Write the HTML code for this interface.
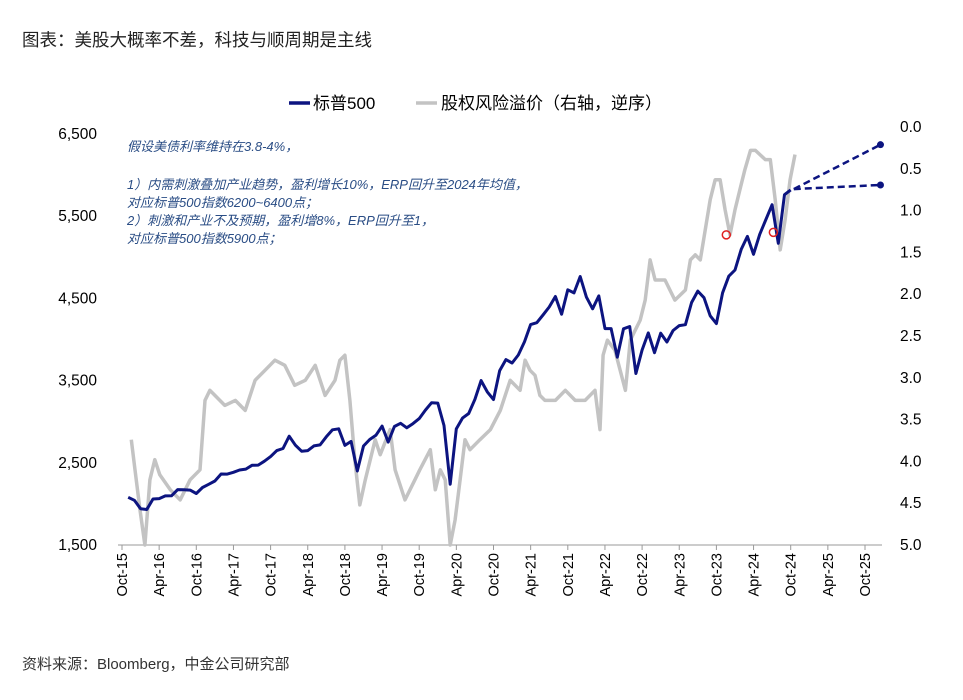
<!DOCTYPE html>
<html><head><meta charset="utf-8"><style>
body{margin:0;background:#fff;width:963px;height:695px;overflow:hidden;font-family:"Liberation Sans","Noto Sans CJK SC",sans-serif;}
</style></head><body>
<svg width="963" height="695" xmlns="http://www.w3.org/2000/svg">
<text x="22" y="46" font-size="17.5" fill="#222" font-family="Liberation Sans, Noto Sans CJK SC, sans-serif">图表：美股大概率不差，科技与顺周期是主线</text>
<g id="legend" font-size="17" font-family="Liberation Sans, Noto Sans CJK SC, sans-serif" fill="#000">
<line x1="289" y1="103" x2="310" y2="103" stroke="#0c1480" stroke-width="3.5"/>
<text x="313" y="109">标普500</text>
<line x1="416" y1="103" x2="437" y2="103" stroke="#c3c3c3" stroke-width="3.5"/>
<text x="441" y="109">股权风险溢价（右轴，逆序）</text>
</g>
<g id="axes" font-size="15" fill="#000"></g>
<g id="plot"></g>
<g font-size="13" font-style="italic" fill="#2a4d85" font-family="Liberation Sans, Noto Sans CJK SC, sans-serif">
<text x="127" y="151">假设美债利率维持在3.8-4%，</text>
<text x="127" y="189">1）内需刺激叠加产业趋势，盈利增长10%，ERP回升至2024年均值，</text>
<text x="127" y="207">对应标普500指数6200~6400点；</text>
<text x="127" y="225">2）刺激和产业不及预期，盈利增8%，ERP回升至1，</text>
<text x="127" y="243">对应标普500指数5900点；</text>
</g>
<text x="22" y="669" font-size="15" fill="#333" font-family="Liberation Sans, Noto Sans CJK SC, sans-serif">资料来源：Bloomberg，中金公司研究部</text>
</svg>
<script>
const xLabels=["Oct-15","Apr-16","Oct-16","Apr-17","Oct-17","Apr-18","Oct-18","Apr-19","Oct-19","Apr-20","Oct-20","Apr-21","Oct-21","Apr-22","Oct-22","Apr-23","Oct-23","Apr-24","Oct-24","Apr-25","Oct-25"];
const leftTicks=[1500,2500,3500,4500,5500,6500];
const rightTicks=[0.0,0.5,1.0,1.5,2.0,2.5,3.0,3.5,4.0,4.5,5.0];
// S&P 500 monthly, starting month 1 (Nov-15)
const spxStart=1;
const spxValues=[2080,2044,1940,1932,2060,2065,2097,2099,2174,2171,2168,2126,2199,2239,
2279,2364,2363,2384,2412,2423,2470,2472,2519,2575,2648,2674,
2824,2714,2641,2648,2705,2718,2816,2902,2914,2712,2760,2400,
2704,2784,2834,2946,2752,2942,2980,2926,2977,3038,3141,3231,
3226,2954,2240,2912,3044,3100,3271,3500,3363,3270,3622,3756,
3714,3811,3973,4181,4204,4298,4395,4523,4308,4605,4567,4766,
4516,4374,4530,4132,4132,3785,4130,4158,3586,3872,4080,3840,
4077,3970,4109,4169,4180,4450,4589,4508,4288,4194,4568,4770,
4846,5096,5254,5036,5278,5460,5640,5170,5762,5820];
// ERP (right axis, inverted), months since Oct-15
const erpMonths=[1.5,2.1,2.9,3.7,4.5,5.3,6.1,7.8,9.4,11.0,12.6,13.4,14.2,15.0,16.6,18.3,19.9,21.5,23.1,24.7,26.3,27.9,29.6,31.2,32.8,34.4,35.2,36.0,36.8,37.6,38.4,39.3,40.9,41.7,43.3,44.1,45.7,47.3,48.1,49.8,50.6,51.4,52.2,53.0,53.8,54.6,55.4,56.2,57.8,59.5,61.1,62.7,64.3,65.1,65.9,66.7,67.5,68.3,70.0,71.6,73.2,74.8,76.4,77.2,77.7,78.4,79.6,81.3,82.1,83.7,84.5,85.3,86.1,87.7,89.3,91.0,91.8,92.6,93.4,95.0,95.8,96.6,97.4,98.2,99.0,99.8,100.6,101.5,102.3,103.9,104.7,105.5,106.3,107.1,107.9,108.7];
const erpValues=[3.74,4.10,4.58,5.0,4.22,3.98,4.16,4.34,4.46,4.22,4.10,3.27,3.15,3.21,3.33,3.27,3.39,3.03,2.91,2.79,2.85,3.09,3.03,2.85,3.21,3.03,2.79,2.73,3.27,3.98,4.52,4.22,3.74,3.92,3.62,4.10,4.46,4.22,4.10,3.86,4.34,4.10,4.22,5.0,4.70,4.22,3.74,3.86,3.74,3.62,3.39,3.03,3.15,2.79,2.91,2.97,3.21,3.27,3.27,3.15,3.27,3.27,3.15,3.62,2.73,2.55,2.67,3.15,2.55,2.31,2.07,1.59,1.83,1.83,2.07,1.95,1.59,1.53,1.59,0.87,0.63,0.63,0.99,1.29,0.99,0.75,0.51,0.28,0.28,0.39,0.39,0.87,1.47,1.11,0.63,0.33];
const projStart=[108.5,5830];
const projEnds=[[122.5,6370],[122.5,5880]];
const circles=[[97.6,1.29],[105.2,1.26]];

const NS="http://www.w3.org/2000/svg";
const X=m=>122+m*(743/120);
const YL=v=>545-(v-1500)*(411/5000);
const YR=v=>127+v*(418/5);
function mk(p,t,a){const e=document.createElementNS(NS,t);for(const k in a)e.setAttribute(k,a[k]);p.appendChild(e);return e;}
const axes=document.getElementById('axes'),plot=document.getElementById('plot');
let e=mk(axes,'line',{x1:118,y1:545,x2:882,y2:545,stroke:'#999','stroke-width':1});


xLabels.forEach((l,i)=>{const x=X(i*6);
 let t=mk(axes,'line',{x1:x,y1:545,x2:x,y2:550,stroke:'#999'});
 
 
 let tx=mk(axes,'text',{x:0,y:0,transform:`translate(${x+5},553) rotate(-90)`,'text-anchor':'end','font-size':14.5});
 tx.textContent=l;
 
 
});
leftTicks.forEach(v=>{let t=mk(axes,'text',{x:97,y:YL(v)+5,'text-anchor':'end','font-size':15.5});t.textContent=v.toLocaleString('en-US');
 
 });
rightTicks.forEach(v=>{let t=mk(axes,'text',{x:900,y:YR(v)+5,'font-size':15.5});t.textContent=v.toFixed(1);
 
 });
let d=erpMonths.map((m,i)=>(i?'L':'M')+X(m).toFixed(1)+','+YR(erpValues[i]).toFixed(1)).join('');
let g=mk(plot,'path',{d,fill:'none',stroke:'#c3c3c3','stroke-width':3.5,'stroke-linejoin':'round'});


d=spxValues.map((v,i)=>(i?'L':'M')+X(spxStart+i).toFixed(1)+','+YL(v).toFixed(1)).join('');
let b=mk(plot,'path',{d,fill:'none',stroke:'#0c1480','stroke-width':3,'stroke-linejoin':'round'});


projEnds.forEach(p=>{
 let l=mk(plot,'line',{x1:X(projStart[0]),y1:YL(projStart[1]),x2:X(p[0]),y2:YL(p[1]),stroke:'#0c1480','stroke-width':2.5,'stroke-dasharray':'7,4'});
 
 
 let c=mk(plot,'circle',{cx:X(p[0]),cy:YL(p[1]),r:3.5,fill:'#0c1480'});
 
 
});
circles.forEach(p=>{let c=mk(plot,'circle',{cx:X(p[0]),cy:YR(p[1]),r:4,fill:'none',stroke:'#e02020','stroke-width':1.5});
 
 });
</script>
</body></html>
